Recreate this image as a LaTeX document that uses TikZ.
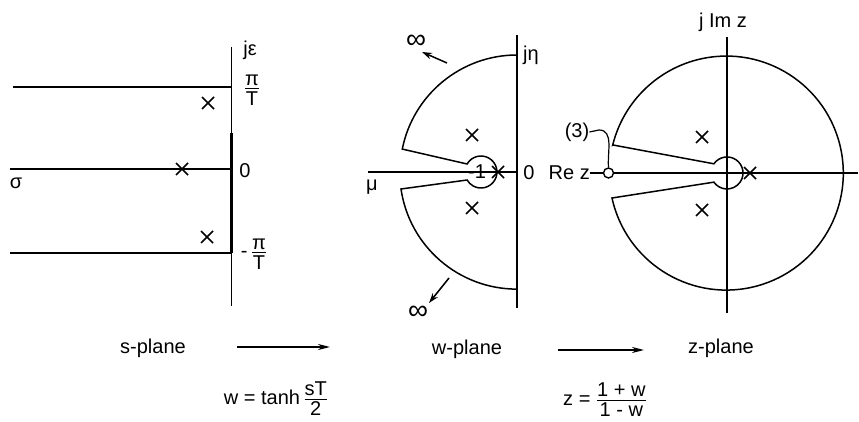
\documentclass[tikz,border=0pt]{standalone}
\usepackage{fontspec}
\setmainfont{Liberation Sans}
\usetikzlibrary{arrows.meta}
\newcommand\myfr[2]{$\frac{\mbox{\rule[-2.5pt]{0pt}{0pt}#1}}{\mbox{\rule{0pt}{16.5pt}#2}}$}
\begin{document}
\begin{tikzpicture}[x=1pt,y=-1pt,
  lbl/.style={font=\fontsize{20}{24}\selectfont, inner sep=0pt},
  inflbl/.style={font=\fontsize{28}{30}\selectfont, inner sep=0pt},
  ax/.style={line width=1.4pt},
  cont/.style={line width=1.5pt},
  maparrow/.style={line width=1.8pt,-{Stealth[length=12pt,width=6pt]}},
  infarrow/.style={line width=1.5pt,-{Stealth[length=10pt,width=6.5pt]}},
  pole/.pic={\draw[line width=1.7pt] (-6,-6)--(6,6) (-6,6)--(6,-6);}]
\useasboundingbox (0,0) rectangle (859,422);

% ---------- s-plane ----------
\draw[ax] (231.5,47) -- (231.5,306);
\draw[line width=2.2pt] (231.5,133) -- (231.5,253);
\draw[line width=2pt] (13,87) -- (231.5,87);
\draw[ax] (10,169) -- (231.5,169);
\draw[line width=2.2pt] (198,169) -- (231.5,169);
\draw[line width=2pt] (10,253) -- (231.5,253);
\pic at (208,103) {pole};
\pic at (182,169) {pole};
\pic at (207,237) {pole};
\node[lbl] (je) at (250,50) {jε};
\node[lbl] (piT) at (252,90) {\myfr{π}{T}};
\node[lbl] (s0) at (245,171) {0};
\node[lbl] (mpiT) at (254,254) {-\,\myfr{π}{T}};
\node[lbl] (sig) at (16,183) {σ};

% ---------- w-plane ----------
\draw[ax] (517,35) -- (517,308);
\draw[ax] (368,172) -- (517,172);
\draw[cont] (517,55) arc[start angle=-90, end angle=-168.7, radius=117]
  -- (467.1,164) arc[start angle=-150, end angle=150, radius=16]
  -- (401,189) arc[start angle=171.7, end angle=90, radius=117];
\pic at (472,135) {pole};
\pic at (472,208) {pole};
\pic at (498,172) {pole};
\node[lbl] (m1) at (477,172) {-1};
\node[lbl] (jeta) at (531,55) {jη};
\node[lbl] (w0) at (529,173) {0};
\node[lbl] (mu) at (372,187) {μ};
\node[inflbl] (inf1) at (416,42) {∞};
\node[inflbl] (inf2) at (418,313) {∞};
\coordinate (t1) at (447,63);
\coordinate (h1) at (422,52);
\coordinate (t2) at (449,278);
\coordinate (h2) at (429,303);
\draw[infarrow] (t1) -- (h1);
\draw[infarrow] (t2) -- (h2);

% ---------- z-plane ----------
\draw[ax] (727,37) -- (727,313);
\draw[ax] (613,173) -- (858,173);
\draw[cont] (613,145) -- (713.9,163.8)
  arc[start angle=-145, end angle=145, radius=16]
  -- (612,198) arc[start angle=167.7, end angle=-166.2, radius=117] -- cycle;
\pic at (702,137) {pole};
\pic at (702,210) {pole};
\pic at (750,173) {pole};
\node[lbl] (jim) at (723,22) {j Im z};
\node[lbl,anchor=east] (rez) at (590,173) {Re z};
\node[draw,circle,line width=1.4pt,fill=white,minimum size=10pt,inner sep=0pt] (oc) at (608.5,173) {};
\draw[ax] (rez.east) -- (oc.west);
\node[lbl] (three) at (577,132) {(3)};
\coordinate (b1) at (599,130);
\draw[line width=1.2pt] (three.east) -- (b1) to[out=0,in=95] (oc.north);

% ---------- mapping labels ----------
\node[lbl] (sp) at (153,348) {s-plane};
\node[lbl] (wp) at (467,349) {w-plane};
\node[lbl] (zp) at (721,348) {z-plane};
\coordinate (a1s) at (237,347);
\coordinate (a1e) at (330,347);
\coordinate (a2s) at (558,350);
\coordinate (a2e) at (644,350);
\draw[maparrow] (a1s) -- (a1e);
\draw[maparrow] (a2s) -- (a2e);
\node[lbl] (f1) at (276,399) {w = tanh\,\myfr{sT}{2}};
\node[lbl] (f2) at (605,400) {z = \myfr{1 + w}{1 - w}};
\end{tikzpicture}
\end{document}
